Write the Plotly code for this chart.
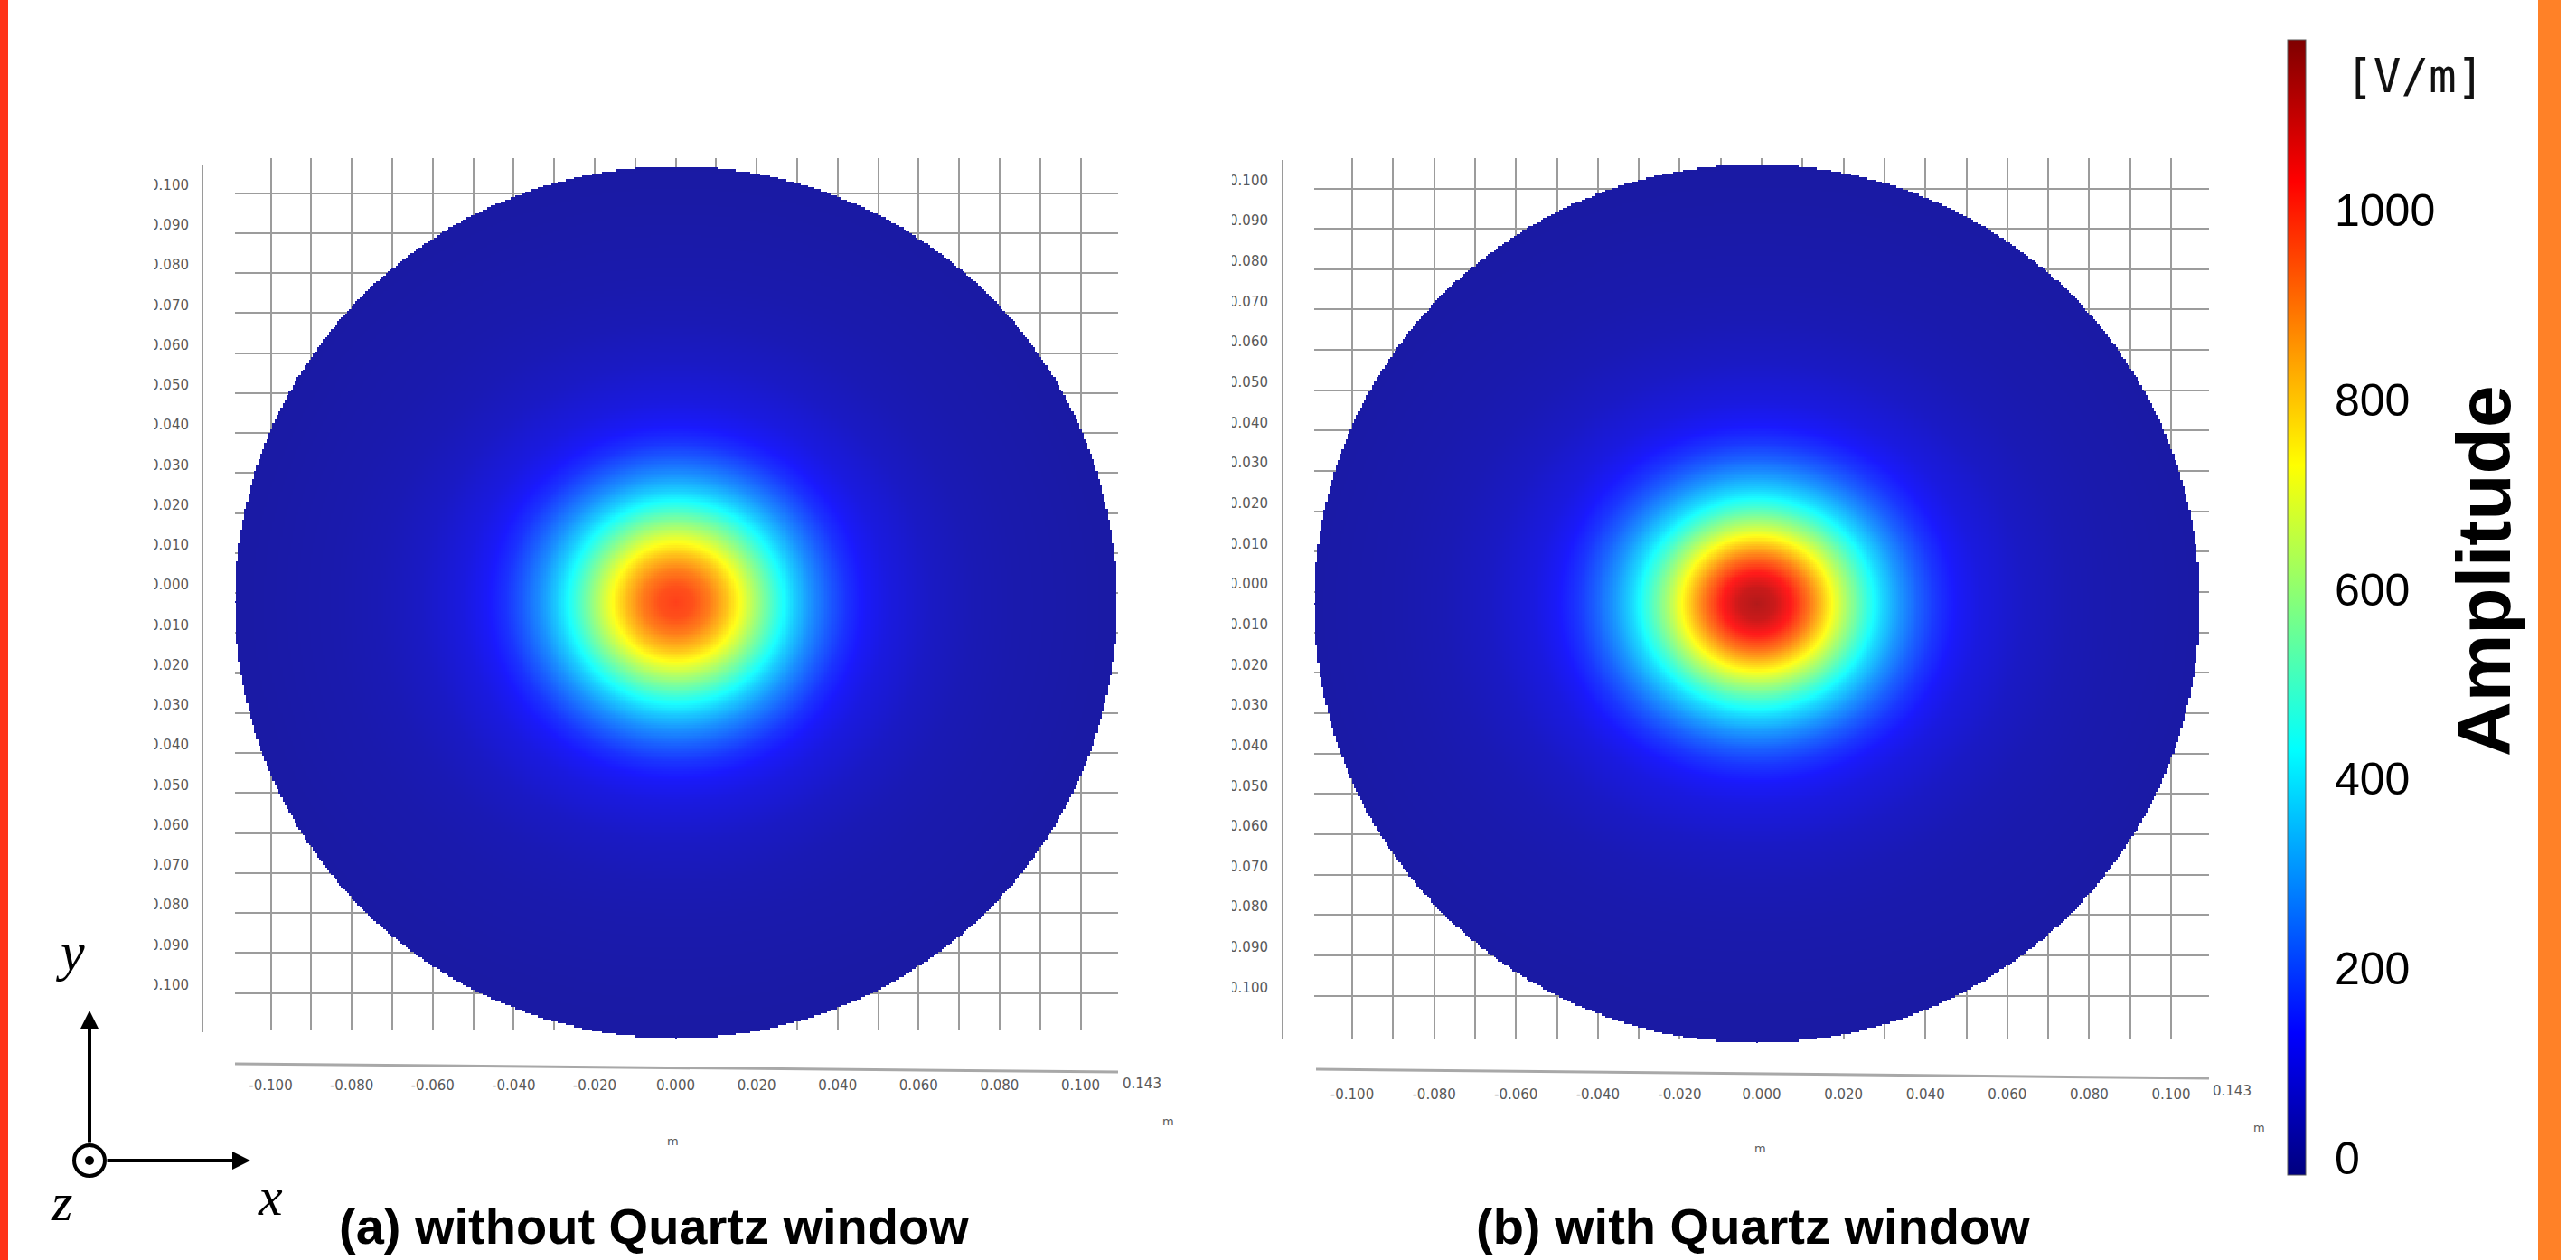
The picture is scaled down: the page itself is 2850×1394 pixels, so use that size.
import numpy as np
import plotly.graph_objects as go

W, H = 2850, 1394

# ---- field data: radial amplitude profile of |E| across the aperture plane ----
radius_m = [0.000, 0.004, 0.008, 0.012, 0.016, 0.020, 0.024, 0.028, 0.032,
            0.036, 0.040, 0.045, 0.050, 0.060, 0.070, 0.080, 0.090, 0.100, 0.110]
amp_without_window = [980, 960, 900, 810, 700, 580, 465, 365, 285,
                      220, 165, 120, 90, 55, 35, 25, 20, 15, 12]
amp_with_window = [1130, 1100, 1020, 900, 760, 620, 490, 380, 295,
                   225, 170, 122, 90, 55, 35, 25, 20, 15, 12]
spot_stretch_x = [1.05, 1.10]          # horizontal elongation of the spot (a), (b)
plate_radius = 0.109                   # radius of the circular cross-section [m]

# ---- axis tick values / labels ----
grid_vals = [-0.100, -0.090, -0.080, -0.070, -0.060, -0.050, -0.040, -0.030, -0.020, -0.010,
             0.000, 0.010, 0.020, 0.030, 0.040, 0.050, 0.060, 0.070, 0.080, 0.090, 0.100]
x_labels = ["-0.100", "", "-0.080", "", "-0.060", "", "-0.040", "", "-0.020", "",
            "0.000", "", "0.020", "", "0.040", "", "0.060", "", "0.080", "", "0.100"]
y_labels = ["-0.100", "-0.090", "-0.080", "-0.070", "-0.060", "-0.050", "-0.040", "-0.030",
            "-0.020", "-0.010", "0.000", "0.010", "0.020", "0.030", "0.040", "0.050",
            "0.060", "0.070", "0.080", "0.090", "0.100"]
cbar_vals = [0, 200, 400, 600, 800, 1000]
cbar_labels = ["0", "200", "400", "600", "800", "1000"]
z_min, z_max = -18, 1180

captions = ["<b>(a) without Quartz window</b>", "<b>(b) with Quartz window</b>"]

jet_stops = [0.0, 0.125, 0.375, 0.625, 0.875, 1.0]
jet_rgb = [(0, 0, 127), (0, 0, 255), (0, 255, 255), (255, 255, 0), (255, 0, 0), (127, 0, 0)]
jet = [[s, "rgb(%d,%d,%d)" % c] for s, c in zip(jet_stops, jet_rgb)]
# the rendered surface is lit, which lifts every colour slightly towards white
lit = [[s, "rgb(%d,%d,%d)" % tuple(round(0.9 * v + 0.1 * 255) for v in c)]
       for s, c in zip(jet_stops, jet_rgb)]


def fx(p):
    return p / W


def fy(p):
    return 1 - p / H


def field(profile, stretch):
    s = np.arange(-plate_radius, plate_radius + 1e-9, 0.0005)
    X, Y = np.meshgrid(s, s)
    r_ell = np.sqrt((X / stretch) ** 2 + Y ** 2)
    Z = np.interp(r_ell, radius_m, profile)
    Z[X ** 2 + Y ** 2 > plate_radius ** 2] = np.nan
    return s, np.round(Z, 1)


def label(text, px, py, font, xanchor="center", **kw):
    return dict(text=text, x=fx(px), y=fy(py), xref="paper", yref="paper",
                xanchor=xanchor, yanchor="middle", showarrow=False, font=font, **kw)


fig = go.Figure()

# panel geometry (pixel boxes): grid frame, disc, zero positions
panels = [
    dict(grid_x=(260, 1237), grid_y=(175, 1140), x0=747.5, sx=4480, y0=656, sy=4425,
         disc_x=(260, 1236), disc_y=(184, 1149),
         vline=(224, 182, 1142), hline=(260, 1177, 1237, 1186),
         crop=(118, 170), prof=amp_without_window, cap=(373, 1356), cap_anchor="left",
         end_lbl=(1263, 1199), m_mid=(744, 1262), m_end=(1292, 1240)),
    dict(grid_x=(1454, 2444), grid_y=(175, 1150), x0=1949, sx=4530, y0=655, sy=4465,
         disc_x=(1454, 2434), disc_y=(182, 1154),
         vline=(1419, 177, 1150), hline=(1456, 1183, 2444, 1193),
         crop=(1300, 1363), prof=amp_with_window, cap=(1939, 1356), cap_anchor="center",
         end_lbl=(2469, 1207), m_mid=(1947, 1270), m_end=(2499, 1247)),
]

layout_axes = {}
shapes = []
annotations = []
tick_font = dict(family="DejaVu Sans", size=15, color="#595959")
unit_font = dict(family="DejaVu Sans", size=13, color="#595959")
caption_font = dict(family="Liberation Sans", size=56, color="#000000")

for i, p in enumerate(panels):
    gx = 2 * i + 1
    hx = 2 * i + 2
    gname = "" if gx == 1 else str(gx)
    hname = str(hx)

    # grid frame axes
    xr = [(p["grid_x"][0] - p["x0"]) / p["sx"], (p["grid_x"][1] - p["x0"]) / p["sx"]]
    yr = [(p["y0"] - p["grid_y"][1]) / p["sy"], (p["y0"] - p["grid_y"][0]) / p["sy"]]
    layout_axes["xaxis" + gname] = dict(
        domain=[fx(p["grid_x"][0]), fx(p["grid_x"][1])], range=xr, anchor="y" + gname,
        tickmode="array", tickvals=grid_vals, ticktext=x_labels, showgrid=True,
        gridcolor="#9c9c9c", gridwidth=2, zeroline=False, showline=False, ticks="",
        tickfont=tick_font, ticklabelstandoff=50, fixedrange=True)
    layout_axes["yaxis" + gname] = dict(
        domain=[fy(p["grid_y"][1]), fy(p["grid_y"][0])], range=yr, anchor="x" + gname,
        tickmode="array", tickvals=grid_vals, ticktext=y_labels, showgrid=True,
        gridcolor="#9c9c9c", gridwidth=2, zeroline=False, showline=False, ticks="",
        tickfont=tick_font, ticklabelstandoff=50, ticklabelshift=-9, fixedrange=True)
    fig.add_trace(go.Scatter(x=[], y=[], xaxis="x" + gname, yaxis="y" + gname,
                             showlegend=False, hoverinfo="skip"))

    # disc with field amplitude
    layout_axes["xaxis" + hname] = dict(
        domain=[fx(p["disc_x"][0]), fx(p["disc_x"][1])],
        range=[-plate_radius, plate_radius], anchor="y" + hname, visible=False, fixedrange=True)
    layout_axes["yaxis" + hname] = dict(
        domain=[fy(p["disc_y"][1]), fy(p["disc_y"][0])],
        range=[-plate_radius, plate_radius], anchor="x" + hname, visible=False, fixedrange=True)
    s, Z = field(p["prof"], spot_stretch_x[i])
    fig.add_trace(go.Heatmap(
        x=s, y=s, z=Z, colorscale=lit, zmin=z_min, zmax=z_max, zsmooth=False,
        xaxis="x" + hname, yaxis="y" + hname, hoverinfo="skip", showscale=False))

    # axis lines of the frame
    vx, vy0, vy1 = p["vline"]
    shapes.append(dict(type="line", xref="paper", yref="paper", x0=fx(vx), x1=fx(vx),
                       y0=fy(vy0), y1=fy(vy1), line=dict(color="#9a9a9a", width=2)))
    hx0, hy0, hx1, hy1 = p["hline"]
    shapes.append(dict(type="line", xref="paper", yref="paper", x0=fx(hx0), x1=fx(hx1),
                       y0=fy(hy0), y1=fy(hy1), line=dict(color="#a8a8a8", width=3)))
    # clipped left edge of the y tick labels
    c0, c1 = p["crop"]
    shapes.append(dict(type="rect", xref="paper", yref="paper", layer="above",
                       x0=fx(c0), x1=fx(c1), y0=fy(1135), y1=fy(190),
                       fillcolor="white", line=dict(width=0)))

    annotations += [
        label("0.143", *p["end_lbl"], tick_font),
        label("m", *p["m_mid"], unit_font),
        label("m", *p["m_end"], unit_font),
        label(captions[i], *p["cap"], caption_font, xanchor=p["cap_anchor"]),
    ]

# colour bar (pure scale) attached to a marker-less helper trace
fig.add_trace(go.Scatter(
    x=[None], y=[None], mode="markers", xaxis="x4", yaxis="y4", hoverinfo="skip",
    showlegend=False,
    marker=dict(color=[z_min], cmin=z_min, cmax=z_max, colorscale=jet, showscale=True,
                colorbar=dict(x=fx(2531), xanchor="left", xpad=0, y=fy(1300), yanchor="bottom",
                              ypad=0, len=1256, lenmode="pixels", thickness=20,
                              thicknessmode="pixels", tickmode="array", tickvals=cbar_vals,
                              ticktext=cbar_labels, ticks="outside", ticklen=22,
                              tickcolor="rgba(0,0,0,0)",
                              tickfont=dict(family="Liberation Sans", size=50, color="#000000"),
                              outlinewidth=1, outlinecolor="#5a5a5a"))))

# colour-bar unit and quantity
annotations += [
    label("[V/m]", 2672, 84, dict(family="DejaVu Sans Mono", size=51, color="#111111")),
    label("<b>Amplitude</b>", 2748, 632, dict(family="Liberation Sans", size=84, color="#000000"),
          textangle=-90),
]

# coordinate system triad (x right, y up, z out of page)
ox, oy = 99, 1284
serif = dict(family="Liberation Serif", size=60, color="#000000")
annotations += [
    dict(text="", x=fx(ox), y=fy(1118), xref="paper", yref="paper", showarrow=True,
         ax=0, ay=1266 - 1118, axref="pixel", ayref="pixel",
         arrowhead=2, arrowsize=1, arrowwidth=4, arrowcolor="#000000"),
    dict(text="", x=fx(277), y=fy(oy), xref="paper", yref="paper", showarrow=True,
         ax=-(277 - 117), ay=0, axref="pixel", ayref="pixel",
         arrowhead=2, arrowsize=1, arrowwidth=4, arrowcolor="#000000"),
    label("<i>y</i>", 77, 1053, serif),
    label("<i>z</i>", 68, 1330, serif),
    label("<i>x</i>", 299, 1324, serif),
]
shapes += [
    dict(type="circle", xref="paper", yref="paper", x0=fx(ox - 17), x1=fx(ox + 17),
         y0=fy(oy + 17), y1=fy(oy - 17), line=dict(color="#000000", width=4), fillcolor="white"),
    dict(type="circle", xref="paper", yref="paper", x0=fx(ox - 5), x1=fx(ox + 5),
         y0=fy(oy + 5), y1=fy(oy - 5), line=dict(width=0), fillcolor="#000000"),
    # coloured page edges
    dict(type="rect", xref="paper", yref="paper", x0=0, x1=fx(9), y0=0, y1=1,
         fillcolor="#FF3318", line=dict(width=0), layer="above"),
    dict(type="rect", xref="paper", yref="paper", x0=fx(2808), x1=fx(2833), y0=0, y1=1,
         fillcolor="#FF8127", line=dict(width=0), layer="above"),
]

fig.update_layout(
    width=W, height=H, margin=dict(l=0, r=0, t=0, b=0),
    paper_bgcolor="white", plot_bgcolor="rgba(0,0,0,0)", showlegend=False,
    shapes=shapes, annotations=annotations, **layout_axes)

fig.write_html("out.html")
